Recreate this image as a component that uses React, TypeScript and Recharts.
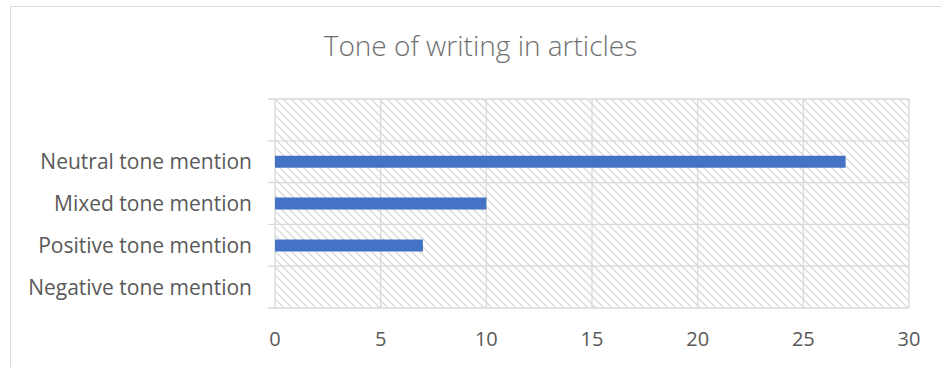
import { BarChart, Bar, XAxis, YAxis, CartesianGrid } from 'recharts';

const categories = ['', 'Neutral tone mention', 'Mixed tone mention', 'Positive tone mention', 'Negative tone mention'];
const mentions = [null, 27, 10, 7, 0];
const xTicks = [0, 5, 10, 15, 20, 25, 30];

const data = categories.map((name, i) => ({ name, value: mentions[i] }));

const FONT = '"Open Sans", Lato, sans-serif';
const GRID = '#d9d9d9';
const TEXT = '#595959';

const GridRow = (props: any) => {
  const { x1, x2, y1, y2 } = props;
  return <line x1={x1 - 7} x2={x2} y1={y1} y2={y2} stroke={GRID} strokeWidth={1.3} />;
};

export default function App() {
  return (
    <div style={{ position: 'absolute', left: 0, top: 0, width: 941, height: 367, overflow: 'hidden', background: '#fff' }}>
      <div style={{ position: 'absolute', left: 10, top: 6, width: 1000, height: 400, border: `1px solid ${GRID}` }} />
      <div
        style={{
          position: 'absolute', left: 0, top: 26, width: 961, textAlign: 'center',
          fontFamily: FONT, fontSize: 28, lineHeight: '38px', color: '#6f6f6f', fontWeight: 300,
        }}
      >
        Tone of writing in articles
      </div>
      <div style={{ position: 'absolute', left: 0, top: 0 }}>
        <BarChart
          width={941}
          height={367}
          data={data}
          layout="vertical"
          margin={{ top: 99, right: 32, bottom: 0, left: 0 }}
        >
          <defs>
            <pattern id="hatch" patternUnits="userSpaceOnUse" width={8} height={8}>
              <rect width={8} height={8} fill="#fff" />
              <path d="M-2,6 L2,10 M0,0 L8,8 M6,-2 L10,2" stroke={GRID} strokeWidth={1.3} />
            </pattern>
          </defs>
          <CartesianGrid
            fill="url(#hatch)"
            fillOpacity={1}
            stroke={GRID}
            strokeWidth={1.3}
            horizontal={GridRow}
            horizontalCoordinatesGenerator={({ offset }: any) =>
              data.map((_, i) => offset.top + (i * offset.height) / data.length).concat(offset.top + offset.height)
            }
          />
          <XAxis
            type="number"
            domain={[0, 30]}
            ticks={xTicks}
            interval={0}
            height={59}
            axisLine={false}
            tickLine={false}
            tickSize={0}
            tickMargin={24}
            tick={{ fill: TEXT, fontSize: 20, fontFamily: FONT }}
          />
          <YAxis
            type="category"
            dataKey="name"
            width={275}
            axisLine={false}
            tickLine={false}
            tickSize={0}
            tickMargin={23}
            interval={0}
            tick={{ fill: TEXT, fontSize: 21, fontFamily: FONT }}
          />
          <Bar dataKey="value" fill="#4472c4" barSize={12} isAnimationActive={false} />
        </BarChart>
      </div>
    </div>
  );
}
